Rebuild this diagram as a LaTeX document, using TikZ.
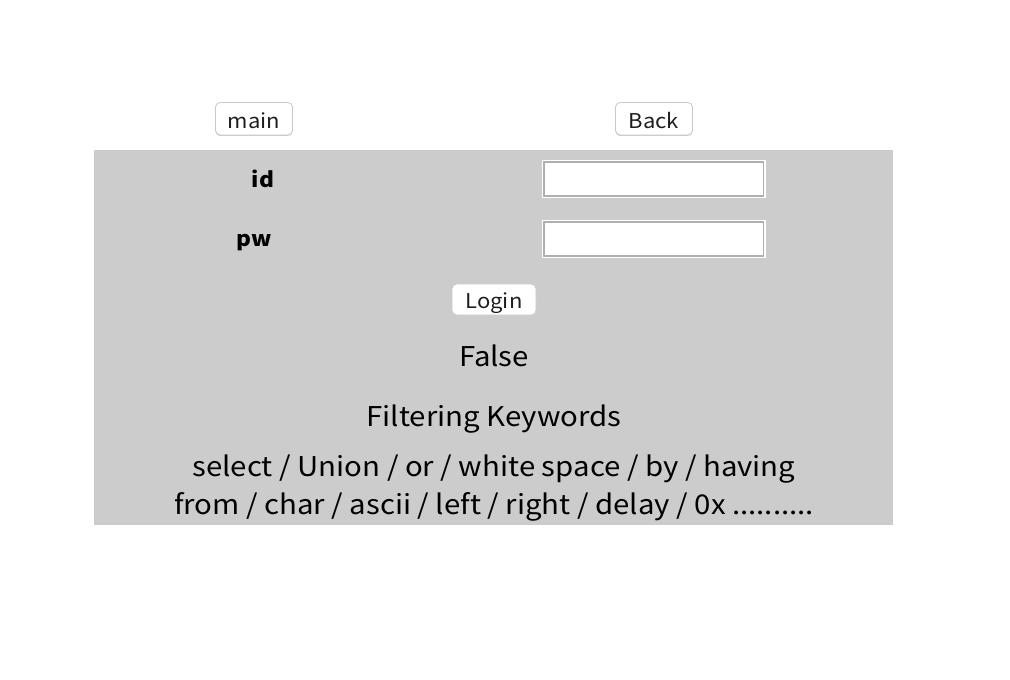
\documentclass[tikz,border=0pt]{standalone}
\usepackage{fontspec}
\setmainfont{Noto Sans CJK KR}[FakeStretch=1.08]
\usepackage{tikz}

\tikzset{
  btn/.style={draw={rgb, 255:red, 200; green, 200; blue, 200}, fill=white, rounded corners=3.5pt, line width=0.6pt},
  btnshadow/.style={fill=black!18, rounded corners=3.5pt},
  btntext/.style={anchor=base, inner sep=0.75pt, font=\fontsize{15.3pt}{18pt}\selectfont, text={rgb, 255:red, 30; green, 30; blue, 30}},
  fieldlabel/.style={anchor=base, inner sep=0.75pt, font=\fontsize{15.8pt}{18pt}\selectfont\bfseries},
  bigtext/.style={anchor=base, inner sep=0.75pt, font=\fontsize{20.4pt}{24pt}\selectfont},
  inbox/.style={fill=white, draw=white, line width=0.8pt},
}

\begin{document}
\begin{tikzpicture}[x=0.75pt,y=0.75pt,yscale=-1,xscale=1]
        \path[use as bounding box] (0,0) rectangle (1010,680);

        %Shape: Rectangle [id:panel] 
        \draw  [draw=none, fill={rgb, 255:red, 204; green, 204; blue, 204 }  ,fill opacity=1 ] (94,150) rectangle (893,525) ;

        %Shape: Button [id:main] 
        \fill  [btnshadow] (215.5,103.5) rectangle (292.5,136) ;
        \draw  [btn] (215.5,102.5) rectangle (292.5,135) ;
        %Shape: Button [id:back] 
        \fill  [btnshadow] (615.5,103.5) rectangle (692.5,136) ;
        \draw  [btn] (615.5,102.5) rectangle (692.5,135) ;
        %Shape: Button [id:login] 
        \fill  [btnshadow] (452,285) rectangle (536,316) ;
        \draw  [btn] (452,284) rectangle (536,315) ;

        %Shape: Input [id:idbox] 
        \draw  [inbox] (542.5,160.5) rectangle (765,197.5) ;
        \draw  [draw={rgb, 255:red, 175; green, 175; blue, 175 }  ,line width=0.8pt] (544,162) rectangle (763.5,196) ;
        %Shape: Input [id:pwbox] 
        \draw  [inbox] (542.5,220.5) rectangle (765,257.5) ;
        \draw  [draw={rgb, 255:red, 175; green, 175; blue, 175 }  ,line width=0.8pt] (544,222) rectangle (763.5,256) ;

        % Text Node
        \node [btntext] (mainlbl) at (254,128.3) {main};
        % Text Node
        \node [btntext] (backlbl) at (654,128.3) {Back};
        % Text Node
        \node [btntext] (loginlbl) at (494,308.3) {Login};
        % Text Node
        \node [fieldlabel] (idlbl) at (263,188) {id};
        % Text Node
        \node [fieldlabel] (pwlbl) at (254,247) {pw};
        % Text Node
        \node [bigtext] (result) at (494,367) {False};
        % Text Node
        \node [bigtext] (filtertitle) at (494,426.5) {Filtering Keywords};
        % Text Node
        \node [bigtext] (kwone) at (494,476.5) {select / Union / or / white space / by / having};
        % Text Node
        \node [bigtext] (kwtwo) at (494,514.5) {from / char / ascii / left / right / delay / 0x ..........};

\end{tikzpicture}
\end{document}
